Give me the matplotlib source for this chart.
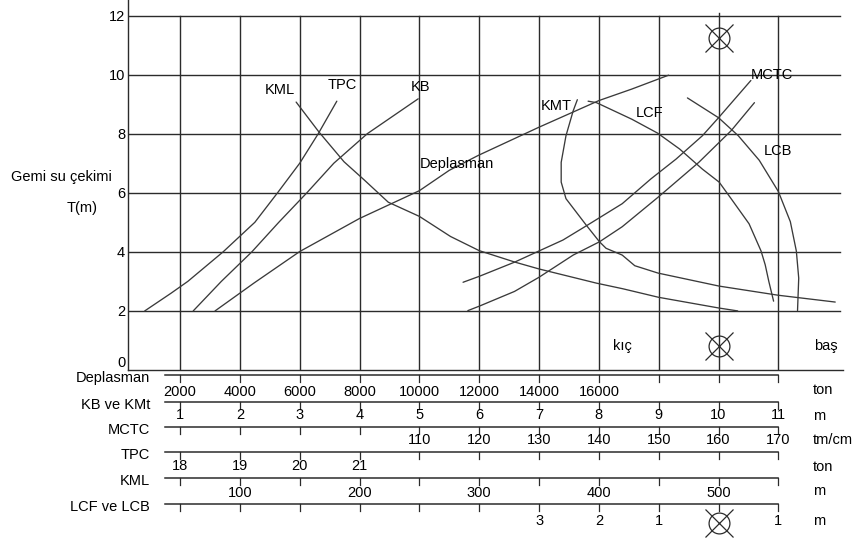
import matplotlib
matplotlib.use("Agg")
import matplotlib.pyplot as plt

plt.rcParams['font.family'] = ['Liberation Sans', 'DejaVu Sans']
FS = 10.5
INK = '#2b2b2b'
CURVE = '#3a3a3a'

# ---------------- data ----------------
draft_ticks = [0, 2, 4, 6, 8, 10, 12]
grid_cols = [1, 2, 3, 4, 5, 6, 7, 8, 9, 10, 11]

disp_ticks = [2000, 4000, 6000, 8000, 10000, 12000, 14000, 16000]
kb_ticks = [1, 2, 3, 4, 5, 6, 7, 8, 9, 10, 11]
mctc_ticks = [110, 120, 130, 140, 150, 160, 170]
tpc_ticks = [18, 19, 20, 21]
kml_ticks = [100, 200, 300, 400, 500]
lc_ticks = [-3, -2, -1, 0, 1]          # negative = aft (kıç), 0 = midship

scale_names = ["Deplasman", "KB ve KMt", "MCTC", "TPC", "KML", "LCF ve LCB"]
scale_units = ["ton", "m", "tm/cm", "ton", "m", "m"]

# curves: draft T (m) and value in each curve's own unit
tpc_T = [2.0, 2.6, 3.0, 4.0, 5.0, 6.0, 7.0, 8.0, 9.1]
tpc_val = [17.41, 17.85, 18.13, 18.72, 19.25, 19.63, 20.0, 20.31, 20.62]

kb_T = [2.0, 3.0, 4.0, 5.0, 6.0, 7.0, 8.0, 9.0, 9.18]
kb_val = [1.22, 1.69, 2.2, 2.65, 3.12, 3.57, 4.13, 4.85, 4.98]

disp_T = [2.0, 2.95, 4.01, 5.13, 6.07, 6.76, 7.27, 8.22, 9.12, 9.51, 9.98]
disp_val = [3170, 4480, 6000, 8000, 10000, 11000, 11980, 14000, 16000, 17100, 18330]

kml_T = [9.07, 8.06, 7.05, 6.43, 5.68, 5.2, 4.52, 4.04, 3.65, 3.42, 2.94, 2.75, 2.46, 2.1, 2.0]
kml_val = [147, 166, 187, 204, 224, 250, 276, 300, 330, 350, 398, 420, 450, 500, 516]

kmt_T = [2.3, 2.53, 2.84, 3.28, 3.53, 3.89, 4.12, 4.34, 4.9, 5.8, 6.36, 7.03, 7.93, 8.77, 9.15]
kmt_val = [11.95, 11.0, 10.01, 8.99, 8.6, 8.39, 8.12, 8.01, 7.79, 7.45, 7.37, 7.37, 7.45, 7.57, 7.64]

lcf_T = [9.1, 9.05, 8.49, 8.02, 7.48, 6.8, 6.36, 5.8, 4.95, 4.03, 3.56, 3.0, 2.33]
lcf_val = [-2.18, -2.04, -1.45, -1.02, -0.65, -0.27, 0.01, 0.21, 0.51, 0.71, 0.78, 0.84, 0.92]

lcb_T = [9.21, 8.54, 7.93, 7.1, 6.04, 5.02, 4.03, 3.11, 2.01]
lcb_val = [-0.52, 0.0, 0.33, 0.68, 1.0, 1.2, 1.3, 1.34, 1.32]

mctc_T = [2.97, 3.17, 3.65, 4.03, 4.4, 4.88, 5.63, 6.47, 7.14, 7.93, 8.54, 9.8]
mctc_val = [117.3, 120, 125.9, 130, 134, 137.9, 143.9, 148.7, 152.9, 157.3, 160, 165.4]

aux_T = [2.01, 2.16, 2.66, 3.14, 3.89, 4.34, 4.85, 5.85, 7.03, 8.1, 9.05]
aux_val = [118.1, 120, 125.9, 130, 135.7, 140.1, 143.9, 149.9, 156.7, 162.1, 166]


# scale value -> common column index of the grid
def col_disp(v): return v / 2000
def col_kb(v): return v
def col_mctc(v): return (v - 60) / 10
def col_tpc(v): return v - 17
def col_kml(v): return v / 50
def col_lc(v): return 10 + v


# ---------------- figure ----------------
W, H = 860, 540
fig = plt.figure(figsize=(W / 100, H / 100), dpi=100)
X0, X1 = 0.13, 12.08
ax = fig.add_axes([128 / W, 170 / H, 715 / W, 370 / H])
ax.set_xlim(X0, X1)
ax.set_ylim(0, 12.525)
for s in ['top', 'right']:
    ax.spines[s].set_visible(False)
for s in ['left', 'bottom']:
    ax.spines[s].set_color(INK)
    ax.spines[s].set_linewidth(1.0)
ax.set_xticks([])
ax.set_yticks(draft_ticks)
ax.set_yticklabels([str(t) for t in draft_ticks])
ax.tick_params(axis='y', length=0, pad=2, labelsize=FS)
ax.get_yticklabels()[0].set_va('bottom')

# grid
for c in grid_cols:
    top = 12.1 if c == 10 else 12
    ax.plot([c, c], [0, top], color=INK, lw=1.0, zorder=1)
for t in draft_ticks[1:]:
    ax.plot([X0, 12.03], [t, t], color=INK, lw=1.0, zorder=1)

# curves
def curve(xs, ts):
    ax.plot(xs, ts, color=CURVE, lw=0.95, zorder=2,
            solid_joinstyle='round', solid_capstyle='round')

curve([col_tpc(v) for v in tpc_val], tpc_T)
curve([col_kb(v) for v in kb_val], kb_T)
curve([col_disp(v) for v in disp_val], disp_T)
curve([col_kml(v) for v in kml_val], kml_T)
curve([col_kb(v) for v in kmt_val], kmt_T)
curve([col_lc(v) for v in lcf_val], lcf_T)
curve([col_lc(v) for v in lcb_val], lcb_T)
curve([col_mctc(v) for v in mctc_val], mctc_T)
curve([col_mctc(v) for v in aux_val], aux_T)

def txt(a, x, y, s, **kw):
    a.text(x, y, s, fontsize=FS, color='black', ha='center', va='center', **kw)

txt(ax, 2.66, 9.47, "KML")
txt(ax, 3.71, 9.66, "TPC")
txt(ax, 5.02, 9.58, "KB")
txt(ax, 5.63, 6.97, "Deplasman")
txt(ax, 7.28, 8.93, "KMT")
txt(ax, 8.85, 8.71, "LCF")
txt(ax, 10.89, 10.0, "MCTC")
txt(ax, 10.99, 7.42, "LCB")
txt(ax, 8.4, 0.8, "kıç")
txt(ax, 11.79, 0.8, "baş")


def midship(a, x, y):
    a.plot(x, y, marker='o', ms=15, mfc='none', mec=INK, mew=0.9, clip_on=False, zorder=3)
    a.plot(x, y, marker='x', ms=20, mew=0.9, color=INK, clip_on=False, zorder=3)

midship(ax, 10, 11.23)
midship(ax, 10, 0.8)

fig.text(61 / W, 1 - 177 / H, "Gemi su çekimi", fontsize=FS, ha='center', va='center')
fig.text(82 / W, 1 - 208 / H, "T(m)", fontsize=FS, ha='center', va='center')

# ---------------- bottom scales ----------------
ax2 = fig.add_axes([128 / W, 0, 715 / W, 170 / H])
ax2.set_xlim(X0, X1)
ax2.set_ylim(540, 370)
ax2.axis('off')

line_rows = [375, 402, 427, 452, 478, 504]
label_rows = [392, 415, 440, 466, 493, 521]
unit_rows = [390, 416, 440, 467, 491, 521]

for name, unit, r, ur in zip(scale_names, scale_units, line_rows, unit_rows):
    ax2.plot([0.75, 11.0], [r, r], color=INK, lw=1.1)
    for c in grid_cols:
        ax2.plot([c, c], [r, r + 7], color=INK, lw=0.9)
    fig.text(150 / W, 1 - (r + 3) / H, name, fontsize=FS, ha='right', va='center')
    fig.text(813 / W, 1 - ur / H, unit, fontsize=FS, ha='left', va='center')

for v in disp_ticks:
    txt(ax2, col_disp(v), label_rows[0], str(v))
for v in kb_ticks:
    txt(ax2, col_kb(v), label_rows[1], str(v))
for v in mctc_ticks:
    txt(ax2, col_mctc(v), label_rows[2], str(v))
for v in tpc_ticks:
    txt(ax2, col_tpc(v), label_rows[3], str(v))
for v in kml_ticks:
    txt(ax2, col_kml(v), label_rows[4], str(v))
for v in lc_ticks:
    if v == 0:
        midship(ax2, col_lc(v), label_rows[5] + 2)
    else:
        txt(ax2, col_lc(v), label_rows[5], str(abs(v)))

fig.savefig("out.png", dpi=100)
